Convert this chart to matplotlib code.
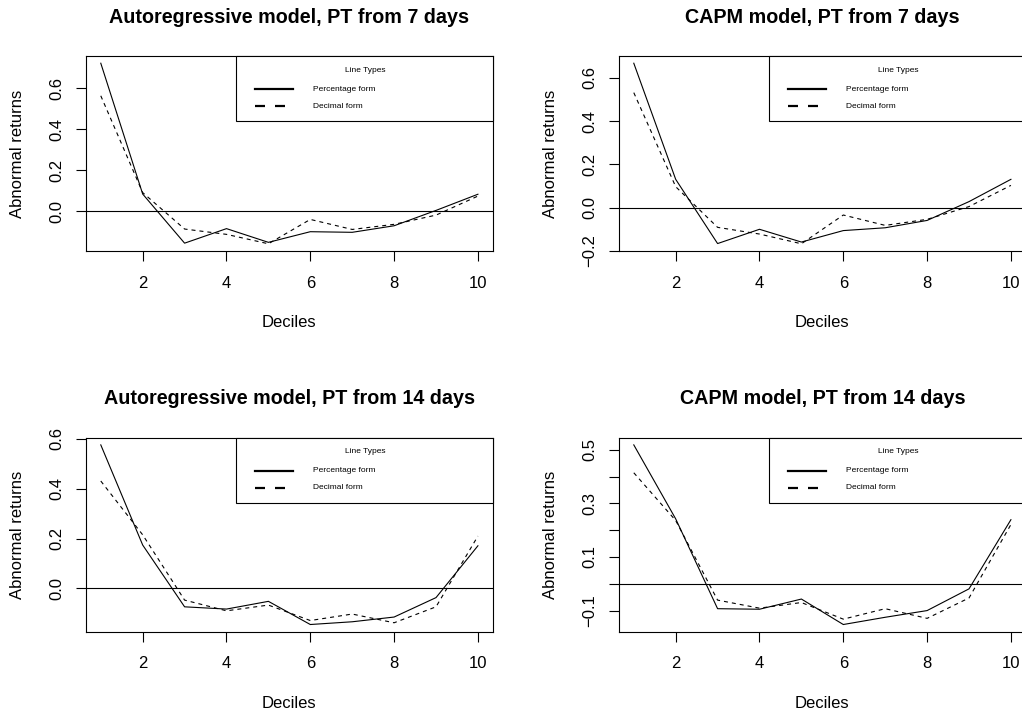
import matplotlib
matplotlib.use("Agg")
import matplotlib.pyplot as plt
from matplotlib.lines import Line2D
from matplotlib.patches import Rectangle

plt.rcParams['font.family'] = ['Liberation Sans', 'DejaVu Sans']

# ---------------- data ----------------
deciles = [1, 2, 3, 4, 5, 6, 7, 8, 9, 10]

titles = [
    "Autoregressive model, PT from 7 days",
    "CAPM model, PT from 7 days",
    "Autoregressive model, PT from 14 days",
    "CAPM model, PT from 14 days",
]

ar7_pct = [0.722, 0.083, -0.157, -0.086, -0.153, -0.101, -0.104, -0.072, 0.003, 0.082]
ar7_dec = [0.563, 0.090, -0.088, -0.114, -0.160, -0.041, -0.090, -0.065, -0.020, 0.073]

capm7_pct = [0.668, 0.131, -0.166, -0.100, -0.159, -0.106, -0.093, -0.059, 0.028, 0.131]
capm7_dec = [0.532, 0.097, -0.091, -0.122, -0.167, -0.034, -0.082, -0.054, 0.005, 0.103]

ar14_pct = [0.576, 0.174, -0.074, -0.083, -0.052, -0.145, -0.134, -0.115, -0.037, 0.171]
ar14_dec = [0.431, 0.215, -0.047, -0.090, -0.067, -0.129, -0.103, -0.138, -0.074, 0.210]

capm14_pct = [0.518, 0.242, -0.093, -0.095, -0.057, -0.152, -0.125, -0.100, -0.019, 0.239]
capm14_dec = [0.414, 0.236, -0.061, -0.091, -0.070, -0.132, -0.093, -0.129, -0.053, 0.221]

series_pct = [ar7_pct, capm7_pct, ar14_pct, capm14_pct]
series_dec = [ar7_dec, capm7_dec, ar14_dec, capm14_dec]

xticks = [2, 4, 6, 8, 10]
yticks = [
    [0.0, 0.2, 0.4, 0.6],
    [-0.2, 0.0, 0.2, 0.4, 0.6],
    [0.0, 0.2, 0.4, 0.6],
    [-0.1, 0.0, 0.1, 0.2, 0.3, 0.4, 0.5],
]
ytick_labels = [
    ["0.0", "0.2", "0.4", "0.6"],
    ["\u22120.2", "0.0", "0.2", "0.4", "0.6"],
    ["0.0", "0.2", "0.4", "0.6"],
    ["\u22120.1", "", "0.1", "", "0.3", "", "0.5"],
]

legend_title = "Line Types"
legend_labels = ["Percentage form", "Decimal form"]
xlabel = "Deciles"
ylabel = "Abnormal returns"

# ---------------- layout (pixels) ----------------
W, H = 1022, 715
fig = plt.figure(figsize=(W / 100, H / 100), dpi=100)
fig.patch.set_facecolor('white')

box_w = 407.3
boxes = [  # left, top, bottom (pixels)
    (85.7, 56.0, 251.0),
    (618.7, 56.0, 251.0),
    (85.7, 437.7, 631.7),
    (618.7, 437.7, 631.7),
]

LW = 0.8
FS = 12
LFS = 6.0
for i, (l, t, b) in enumerate(boxes):
    bh = b - t
    ax = fig.add_axes([l / W, (H - b) / H, box_w / W, bh / H])
    x = deciles
    p = series_pct[i]
    d = series_dec[i]
    ax.plot(x, p, color='black', lw=LW, solid_joinstyle='miter')
    ax.plot(x, d, color='black', lw=LW, linestyle=(0, (3.6, 3.6)))
    ax.axhline(0, color='black', lw=LW)

    lo = min(min(p), min(d)); hi = max(max(p), max(d))
    pad = 0.04 * (hi - lo)
    ax.set_ylim(lo - pad, hi + pad)
    ax.set_xlim(1 - 0.04 * 9, 10 + 0.04 * 9)

    ax.set_xticks(xticks)
    ax.set_xticklabels([str(v) for v in xticks])
    ax.set_yticks(yticks[i])
    ax.set_yticklabels(ytick_labels[i], rotation=90, va='center')
    ax.tick_params(direction='out', length=7.2, width=LW, labelsize=FS,
                   color='black', labelcolor='black')
    ax.tick_params(axis='x', pad=10.5)
    ax.tick_params(axis='y', pad=8)
    for s in ax.spines.values():
        s.set_linewidth(LW)
        s.set_color('black')

    ax.set_title(titles[i], fontsize=14.2, fontweight='bold', pad=24)
    ax.text(0.5, -71.7 / bh, xlabel, transform=ax.transAxes, ha='center',
            va='center', fontsize=FS)
    ax.text(-68.5 / box_w, 0.5, ylabel, transform=ax.transAxes, ha='center',
            va='center', rotation=90, fontsize=FS)

    # legend box (R-style, top-right)
    def fx(px):
        return px / box_w

    def fy(py):
        return 1 - py / bh

    lx0 = 150.3
    rect = Rectangle((fx(lx0), fy(65)), 1 - fx(lx0), 65 / bh,
                     transform=ax.transAxes, facecolor='white',
                     edgecolor='black', lw=LW, clip_on=False, zorder=5)
    ax.add_patch(rect)
    ax.text(fx(lx0 + 129), fy(14), legend_title, transform=ax.transAxes,
            ha='center', va='center', fontsize=LFS, zorder=6)
    ax.add_artist(Line2D([fx(lx0 + 19), fx(lx0 + 57)], [fy(33.3), fy(33.3)],
                         transform=ax.transAxes, color='black', lw=1.6,
                         clip_on=False, zorder=6))
    ax.add_artist(Line2D([fx(lx0 + 19), fx(lx0 + 57)], [fy(50), fy(50)],
                         transform=ax.transAxes, color='black', lw=1.6,
                         linestyle=(0, (4.5, 4.5)), clip_on=False, zorder=6))
    ax.text(fx(lx0 + 76.7), fy(33.3), legend_labels[0], transform=ax.transAxes,
            ha='left', va='center', fontsize=LFS, zorder=6)
    ax.text(fx(lx0 + 76.7), fy(50), legend_labels[1], transform=ax.transAxes,
            ha='left', va='center', fontsize=LFS, zorder=6)

fig.savefig("out.png", dpi=100, facecolor='white')
